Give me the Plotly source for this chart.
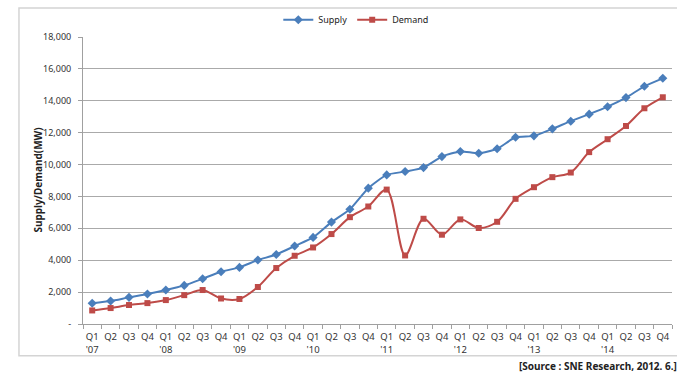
import plotly.graph_objects as go

# Quarterly categories, Q1 2007 .. Q4 2014
quarters = ["Q1", "Q2", "Q3", "Q4"]
years = ["07", "08", "09", "10", "11", "12", "13", "14"]
categories = []
for yr in years:
    for q in quarters:
        categories.append(f"{q}<br>'{yr}" if q == "Q1" else q)
category_ids = [f"{q} '{yr}" for yr in years for q in quarters]

# Supply and demand, MW
supply = [1300, 1440, 1670, 1880, 2130, 2420, 2840, 3280,
          3550, 4010, 4360, 4890, 5430, 6390, 7200, 8520,
          9350, 9560, 9810, 10500, 10820, 10710, 10990, 11710,
          11800, 12240, 12720, 13160, 13630, 14200, 14910, 15410]
demand = [850, 1000, 1190, 1310, 1500, 1810, 2130, 1600,
          1570, 2320, 3510, 4280, 4800, 5640, 6700, 7370,
          8430, 4300, 6600, 5600, 6560, 6020, 6410, 7850,
          8580, 9210, 9500, 10780, 11590, 12420, 13530, 14220]

y_tick_values = [0, 2000, 4000, 6000, 8000, 10000, 12000, 14000, 16000, 18000]
y_tick_labels = ["-", "2,000", "4,000", "6,000", "8,000", "10,000",
                 "12,000", "14,000", "16,000", "18,000"]

BLUE = "#4A7EBB"
RED = "#BE4B48"
FONT = "Noto Sans"

fig = go.Figure()
fig.add_trace(go.Scatter(
    x=category_ids, y=supply, name="Supply", mode="lines+markers",
    line=dict(color=BLUE, width=2, shape="spline", smoothing=0.6),
    marker=dict(symbol="diamond", size=7, color=BLUE),
))
fig.add_trace(go.Scatter(
    x=category_ids, y=demand, name="Demand", mode="lines+markers",
    line=dict(color=RED, width=2, shape="spline", smoothing=0.9),
    marker=dict(symbol="square", size=6, color=RED),
))

fig.update_layout(
    width=677, height=374,
    margin=dict(l=83, r=5, t=37, b=50),
    paper_bgcolor="white", plot_bgcolor="white",
    font=dict(family=FONT, size=9, color="#333333"),
    showlegend=True,
    legend=dict(orientation="h", x=0.464, xanchor="center", y=1.06, yanchor="middle",
                font=dict(size=9, color="#222222"), itemwidth=30,
                bgcolor="rgba(0,0,0,0)", tracegroupgap=0),
    xaxis=dict(
        type="category", tickmode="array", tickvals=category_ids, ticktext=categories,
        tickson="boundaries", ticks="outside", ticklen=4, tickcolor="#A0A0A0",
        ticklabelstandoff=4,
        showline=True, linecolor="#A0A0A0", linewidth=1, showgrid=False,
        tickangle=0, tickfont=dict(size=9.5, color="#333333"),
        range=[-0.5, len(category_ids) - 0.5],
    ),
    yaxis=dict(
        range=[0, 18000], tickmode="array", tickvals=y_tick_values, ticktext=y_tick_labels,
        ticks="outside", ticklen=4, tickcolor="#A0A0A0", ticklabelstandoff=5,
        showline=True, linecolor="#A0A0A0", linewidth=1,
        showgrid=True, gridcolor="#AAAAAA", gridwidth=1, zeroline=False,
        tickfont=dict(size=9, color="#333333"),
    ),
)

# Vertical axis title
fig.add_annotation(
    text="<b>Supply/Demand(MW)</b>", textangle=-90,
    xref="paper", yref="paper", x=-0.078, y=0.5, xanchor="center", yanchor="middle",
    showarrow=False, font=dict(family=FONT, size=10, color="#222222"),
)

# Chart frame
fig.add_shape(type="rect", xref="paper", yref="paper",
              x0=-0.1087, x1=1.012, y0=-0.1103, y1=1.101,
              line=dict(color="#D4D4D4", width=1.5), layer="below")

fig.add_annotation(
    text="<b>[Source : SNE Research, 2012. 6.]</b>",
    xref="paper", yref="paper", x=1.012, y=-0.148, xanchor="right", yanchor="middle",
    showarrow=False, font=dict(family=FONT, size=10, color="#222222"),
)

fig.write_html("out.html")
